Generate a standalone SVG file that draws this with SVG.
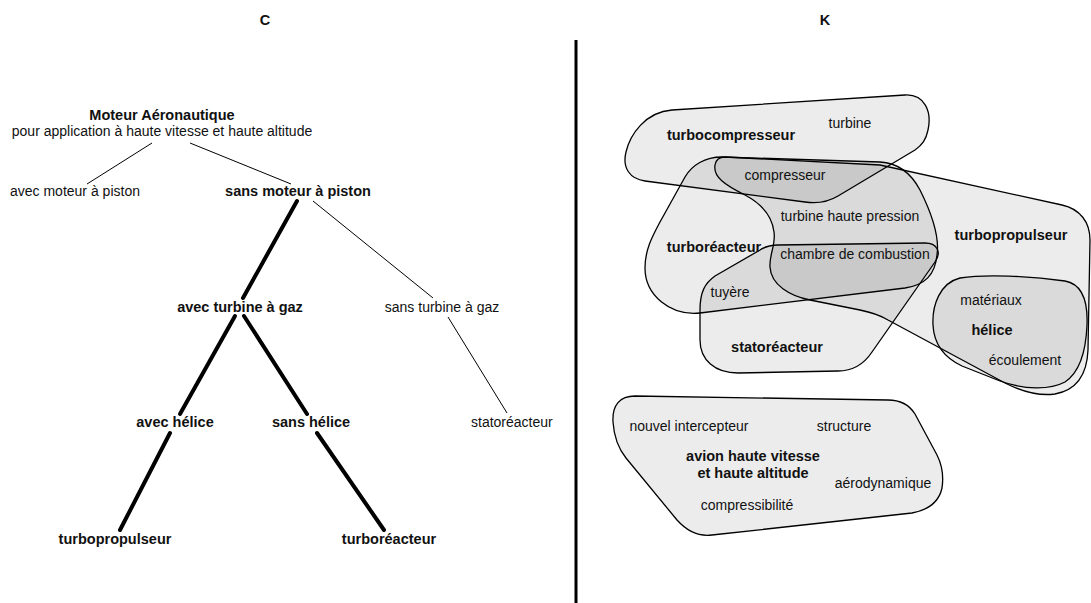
<svg xmlns="http://www.w3.org/2000/svg" width="1091" height="603" viewBox="0 0 1091 603">
  <style>
    text { font-family: "Liberation Sans", Arial, Helvetica, sans-serif; font-size: 14px; fill: #111; }
    .b { font-weight: bold; font-size: 14.5px; }
    .m { text-anchor: middle; }
    .thin { stroke: #000; stroke-width: 1; fill: none; }
    .thick { stroke: #000; stroke-width: 4; fill: none; stroke-linecap: round; }
    .set { fill: #000; fill-opacity: 0.075; stroke: #000; stroke-width: 1.3; }
  </style>
  <rect width="1091" height="603" fill="#fff"/>

  <!-- panel titles and divider -->
  <text class="b m" x="265" y="25">C</text>
  <text class="b m" x="825" y="25">K</text>
  <line x1="576" y1="40" x2="576" y2="603" stroke="#000" stroke-width="3"/>

  <!-- tree connectors -->
  <g id="connectors">
    <line class="thin" x1="152" y1="143" x2="87" y2="184"/>
    <line class="thin" x1="190" y1="143" x2="291" y2="184"/>
    <line class="thick" x1="297" y1="201" x2="243" y2="298"/>
    <line class="thin" x1="313" y1="201" x2="433" y2="298"/>
    <line class="thick" x1="235" y1="316" x2="180" y2="414"/>
    <line class="thick" x1="244" y1="316" x2="307" y2="414"/>
    <line class="thin" x1="448" y1="317" x2="507" y2="413"/>
    <line class="thick" x1="170" y1="433" x2="120" y2="530"/>
    <line class="thick" x1="317" y1="433" x2="384" y2="530"/>
  </g>

  <!-- tree nodes -->
  <g id="root">
    <text class="b m" x="162" y="120">Moteur Aéronautique</text>
    <text class="m" x="162" y="136">pour application à haute vitesse et haute altitude</text>
  </g>
  <g id="avec-moteur-piston"><text x="10" y="196">avec moteur à piston</text></g>
  <g id="sans-moteur-piston"><text class="b m" x="298" y="196">sans moteur à piston</text></g>
  <g id="avec-turbine-gaz"><text class="b m" x="240" y="312">avec turbine à gaz</text></g>
  <g id="sans-turbine-gaz"><text class="m" x="442" y="312">sans turbine à gaz</text></g>
  <g id="avec-helice"><text class="b m" x="175" y="427">avec hélice</text></g>
  <g id="sans-helice"><text class="b m" x="311" y="427">sans hélice</text></g>
  <g id="statoreacteur-leaf"><text x="471" y="427">statoréacteur</text></g>
  <g id="turbopropulseur-leaf"><text class="b m" x="115" y="544">turbopropulseur</text></g>
  <g id="turboreacteur-leaf"><text class="b m" x="389" y="544">turboréacteur</text></g>

  <!-- overlapping concept sets -->
  <g id="set-turbocompresseur">
    <path class="set" d="M 672,110 L 905,95 C 925,94 932,112 928,130 C 926,140 922,145 915,150 L 838,196 C 828,202 818,204 805,202 L 645,181 C 630,179 622,168 626,152 C 630,135 645,112 672,110 Z"/>
  </g>
  <g id="set-turboreacteur">
    <path class="set" d="M 722,157 L 880,162 C 900,163 912,175 920,190 C 930,210 940,235 937,255 C 935,275 925,285 905,288 L 700,313 C 670,316 645,295 645,268 C 645,250 652,237 660,222 L 685,177 C 692,165 705,157 722,157 Z"/>
  </g>
  <g id="set-turbopropulseur">
    <path class="set" d="M 725,157 L 880,165 L 1062,205 C 1080,209 1090,222 1090,240 L 1088,350 C 1087,375 1077,390 1055,394 C 1040,396 1025,393 1005,383 L 888,320 C 878,314 870,312 860,310 L 810,300 C 790,296 771,285 770,267 C 769,255 776,245 774,232 C 772,215 760,203 745,195 C 725,185 713,177 715,165 C 716,159 720,157 725,157 Z"/>
  </g>
  <g id="set-statoreacteur">
    <path class="set" d="M 778,245 L 925,243 C 937,243 942,252 935,262 L 872,352 C 864,364 852,371 838,371 L 738,373 C 715,373 700,360 700,340 L 700,310 C 700,292 705,283 715,276 L 760,250 C 766,246 770,245 778,245 Z"/>
  </g>
  <g id="set-helice">
    <path class="set" d="M 960,278 C 985,274 1030,276 1065,281 C 1082,284 1088,300 1087,325 C 1086,350 1080,372 1065,382 C 1050,390 1025,390 1000,381 L 962,366 C 945,358 934,345 933,325 C 932,305 940,283 960,278 Z"/>
  </g>
  <g id="set-avion">
    <path class="set" d="M 635,396 L 888,400 C 902,400 910,406 915,414 L 937,455 C 942,465 944,475 942,488 C 939,502 928,510 912,513 L 712,535 C 697,537 686,530 677,520 L 626,458 C 618,448 614,437 613,422 C 612,405 620,396 635,396 Z"/>
  </g>

  <!-- set labels and members -->
  <g id="labels">
    <text class="b m" x="731" y="140">turbocompresseur</text>
    <text class="m" x="850" y="128">turbine</text>
    <text class="m" x="785" y="180">compresseur</text>
    <text class="m" x="850" y="221">turbine haute pression</text>
    <text class="b m" x="1011" y="240">turbopropulseur</text>
    <text class="b m" x="714" y="252">turboréacteur</text>
    <text class="m" x="855" y="259">chambre de combustion</text>
    <text class="m" x="730" y="297">tuyère</text>
    <text class="m" x="991" y="305">matériaux</text>
    <text class="b m" x="992" y="335">hélice</text>
    <text class="m" x="1025" y="365">écoulement</text>
    <text class="b m" x="777" y="352">statoréacteur</text>
    <text class="m" x="689" y="431">nouvel intercepteur</text>
    <text class="m" x="844" y="431">structure</text>
    <text class="b m" x="753" y="461">avion haute vitesse</text>
    <text class="b m" x="753" y="478">et haute altitude</text>
    <text class="m" x="883" y="488">aérodynamique</text>
    <text class="m" x="747" y="510">compressibilité</text>
  </g>
</svg>
